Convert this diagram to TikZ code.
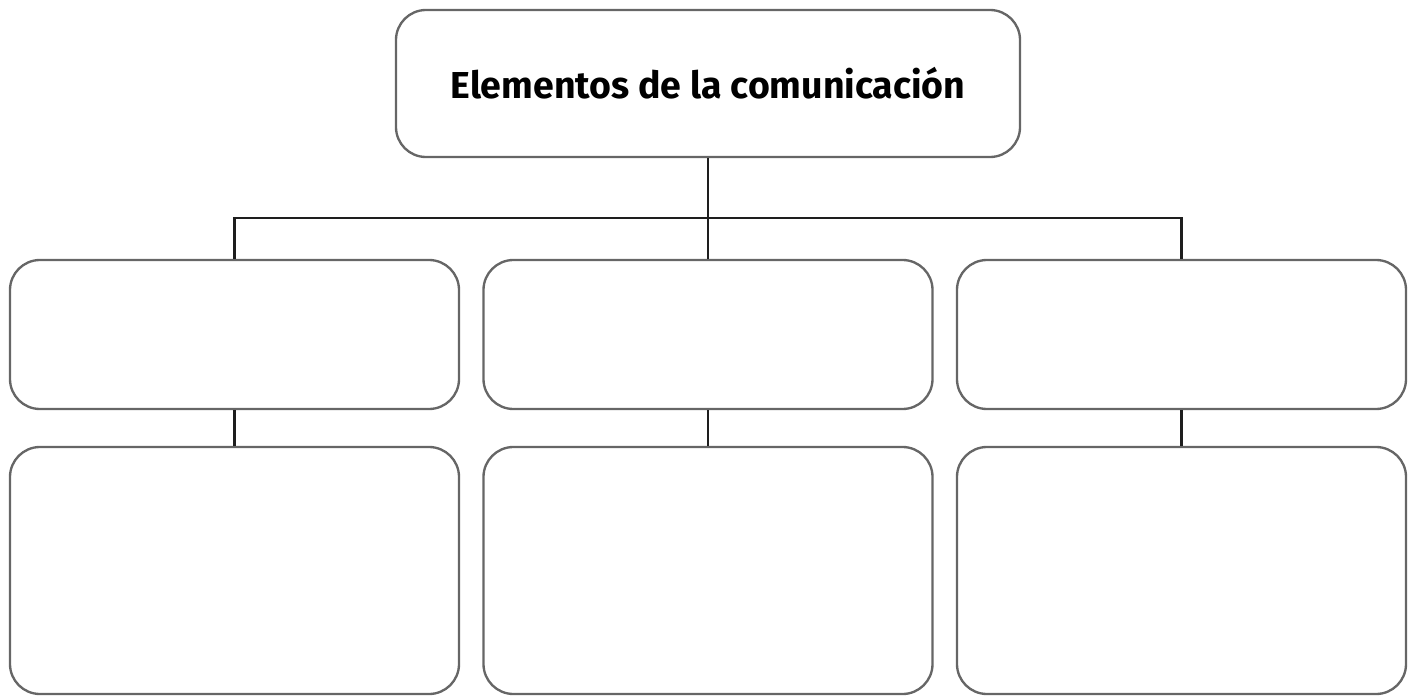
\documentclass[tikz,border=0pt]{standalone}
\usepackage{fontspec}
\setsansfont{Fira Sans}
\usepackage{tikz}
\usetikzlibrary{positioning,calc}

\definecolor{boxgray}{HTML}{666666}
\definecolor{linkblack}{HTML}{1E1E1E}

\tikzset{
    card/.style={draw=boxgray, line width=2pt, rounded corners=0.9cm, inner sep=0pt,
        minimum width=13.47cm},
    upper/.style={card, minimum height=4.47cm},
    lower/.style={card, minimum height=7.41cm},
    link/.style={draw=linkblack, line width=1.8pt}
}

\begin{document}
\begin{tikzpicture}[x=0.03cm, y=-0.03cm]
    \useasboundingbox (0,0) rectangle (1417,696);

    % title
    \node[card, minimum width=18.72cm, minimum height=4.41cm] (title) at (708,83.5)
        {\sffamily\bfseries\fontsize{32}{38}\selectfont Elementos de la comunicaci\'on};

    % first row
    \node[upper] (a1) at (234.5,334.5) {};
    \node[upper] (a2) at (708,334.5) {};
    \node[upper] (a3) at (1181.5,334.5) {};

    % second row
    \node[lower] (b1) at (234.5,570.5) {};
    \node[lower] (b2) at (708,570.5) {};
    \node[lower] (b3) at (1181.5,570.5) {};

    \coordinate (hub) at (708,218);

    \draw[link] (title.south) -- (hub);
    \draw[link] (a1.north) |- (hub) -| (a3.north);
    \draw[link] (hub) -- (a2.north);

    \draw[link] (a1.south) -- (b1.north);
    \draw[link] (a2.south) -- (b2.north);
    \draw[link] (a3.south) -- (b3.north);
\end{tikzpicture}
\end{document}
